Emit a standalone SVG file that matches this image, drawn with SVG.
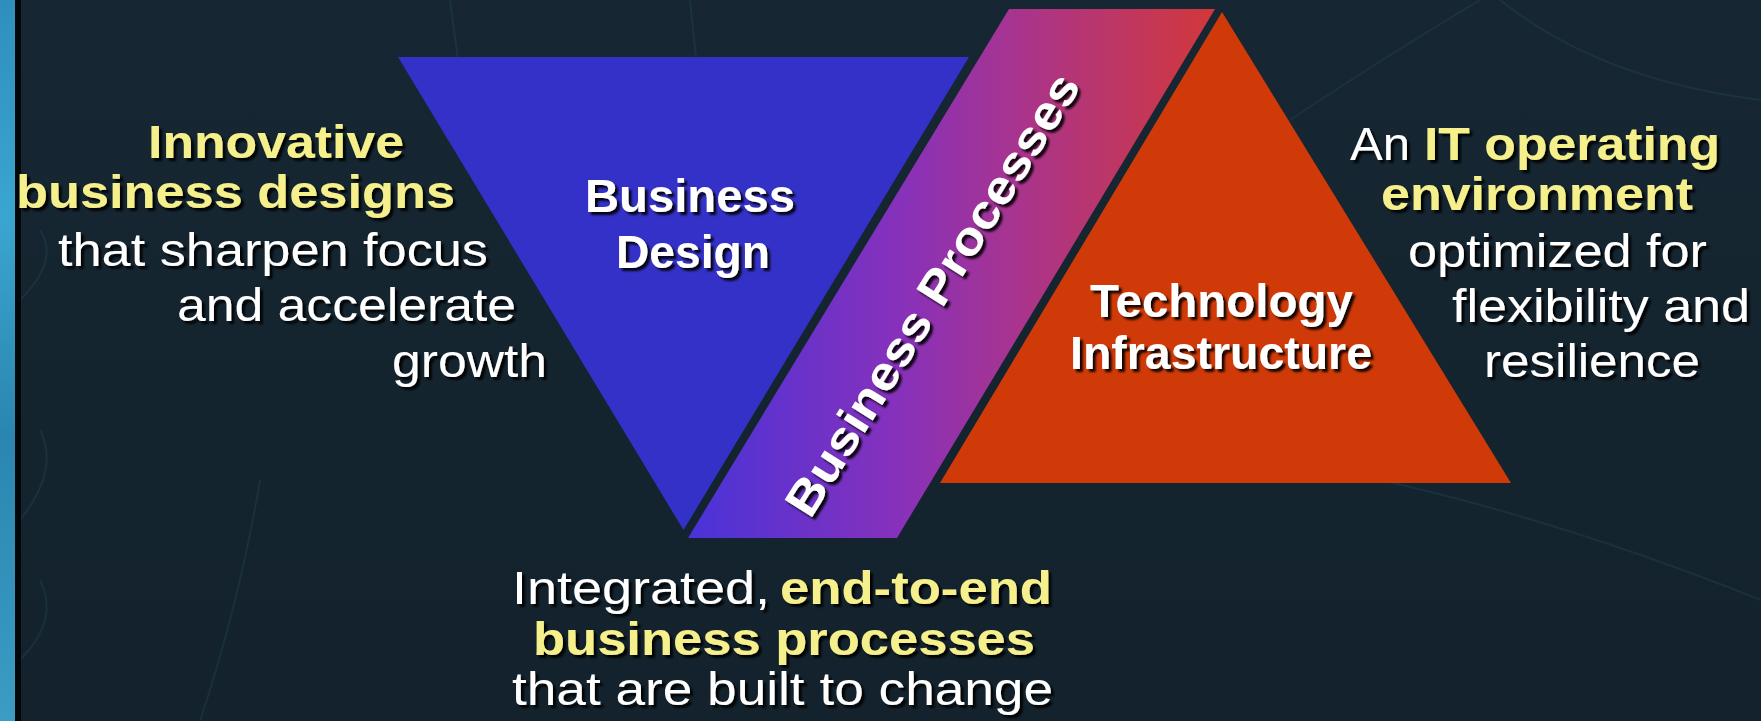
<svg xmlns="http://www.w3.org/2000/svg" width="1761" height="721" viewBox="0 0 1761 721">
<defs>
<linearGradient id="bg" x1="0" y1="0" x2="0" y2="1">
<stop offset="0" stop-color="#162733"/>
<stop offset="1" stop-color="#13222c"/>
</linearGradient>
<linearGradient id="strip" x1="0" y1="0" x2="0" y2="1">
<stop offset="0" stop-color="#2f8fbc"/>
<stop offset="0.3" stop-color="#3aa6cf"/>
<stop offset="0.6" stop-color="#2a86b0"/>
<stop offset="1" stop-color="#3b9cc4"/>
</linearGradient>
<linearGradient id="band" gradientUnits="userSpaceOnUse" x1="690" y1="0" x2="1215" y2="0">
<stop offset="0" stop-color="#4a33d8"/>
<stop offset="0.4" stop-color="#8731bb"/>
<stop offset="0.62" stop-color="#a8348f"/>
<stop offset="1" stop-color="#d2383a"/>
</linearGradient>
<filter id="sh" x="-10%" y="-30%" width="120%" height="160%">
<feDropShadow dx="3" dy="3" stdDeviation="0.8" flood-color="#000" flood-opacity="0.9"/>
</filter>
</defs>
<style>
text{font-family:"Liberation Sans",Arial,sans-serif;font-size:47px;}
.b{font-weight:bold;}
.y{fill:#f6f08c;}
.w{fill:#ffffff;}
.faint{fill:none;stroke:#22404f;stroke-width:2;opacity:0.45;}
</style>
<rect width="1761" height="721" fill="url(#bg)"/>
<g id="decor">
<path class="faint" d="M450 0 L458 60"/>
<path class="faint" d="M690 0 L696 57"/>
<path class="faint" d="M1290 120 Q1380 60 1480 0"/>
<path class="faint" d="M1500 0 Q1600 80 1761 100"/>
<path class="faint" d="M1380 480 Q1560 520 1761 600"/>
<path class="faint" d="M200 721 Q240 600 260 480"/>
<path class="faint" d="M20 300 Q60 260 40 230" stroke="#5a7a8a"/>
<path class="faint" d="M20 520 Q60 470 40 430" stroke="#5a7a8a"/>
<path class="faint" d="M20 660 Q60 620 40 580" stroke="#5a7a8a"/>
</g>
<rect x="0" y="0" width="15" height="721" fill="url(#strip)"/>
<rect x="15" y="0" width="6" height="721" fill="#05080b"/>
<g id="business-design">
<polygon points="398,57 969,57 683.5,530" fill="#3431c9"/>
<g filter="url(#sh)">
<text class="b w" x="585" y="212" textLength="210" lengthAdjust="spacingAndGlyphs">Business</text>
<text class="b w" x="616" y="268" textLength="154" lengthAdjust="spacingAndGlyphs">Design</text>
</g>
</g>
<g id="business-processes">
<polygon points="688,538 897,538 1215,9 1009,9" fill="url(#band)"/>
<g filter="url(#sh)">
<text class="b w" transform="translate(946,303) rotate(-58)" x="-256" y="0" textLength="512" lengthAdjust="spacingAndGlyphs">Business Processes</text>
</g>
</g>
<g id="technology-infrastructure">
<polygon points="1222,12 1511,483 940,483" fill="#d03a08"/>
<g filter="url(#sh)">
<text class="b w" x="1090" y="317" textLength="263" lengthAdjust="spacingAndGlyphs">Technology</text>
<text class="b w" x="1070" y="369" textLength="302" lengthAdjust="spacingAndGlyphs">Infrastructure</text>
</g>
</g>
<g id="left-caption" filter="url(#sh)">
<text class="b y" x="148" y="158" textLength="256" lengthAdjust="spacingAndGlyphs">Innovative</text>
<text class="b y" x="16" y="208" textLength="439" lengthAdjust="spacingAndGlyphs">business designs</text>
<text class="w" x="58" y="266" textLength="430" lengthAdjust="spacingAndGlyphs">that sharpen focus</text>
<text class="w" x="177" y="321" textLength="339" lengthAdjust="spacingAndGlyphs">and accelerate</text>
<text class="w" x="392" y="377" textLength="155" lengthAdjust="spacingAndGlyphs">growth</text>
</g>
<g id="right-caption" filter="url(#sh)">
<text class="w" x="1350" y="160" textLength="60" lengthAdjust="spacingAndGlyphs">An</text>
<text class="b y" x="1424" y="160" textLength="296" lengthAdjust="spacingAndGlyphs">IT operating</text>
<text class="b y" x="1381" y="210" textLength="312" lengthAdjust="spacingAndGlyphs">environment</text>
<text class="w" x="1408" y="267" textLength="299" lengthAdjust="spacingAndGlyphs">optimized for</text>
<text class="w" x="1452" y="322" textLength="298" lengthAdjust="spacingAndGlyphs">flexibility and</text>
<text class="w" x="1484" y="377" textLength="216" lengthAdjust="spacingAndGlyphs">resilience</text>
</g>
<g id="bottom-caption" filter="url(#sh)">
<text class="w" x="512" y="604" textLength="258" lengthAdjust="spacingAndGlyphs">Integrated,</text>
<text class="b y" x="780" y="604" textLength="272" lengthAdjust="spacingAndGlyphs">end-to-end</text>
<text class="b y" x="533" y="655" textLength="502" lengthAdjust="spacingAndGlyphs">business processes</text>
<text class="w" x="512" y="705" textLength="541" lengthAdjust="spacingAndGlyphs">that are built to change</text>
</g>
<g id="connectors"></g>
</svg>
